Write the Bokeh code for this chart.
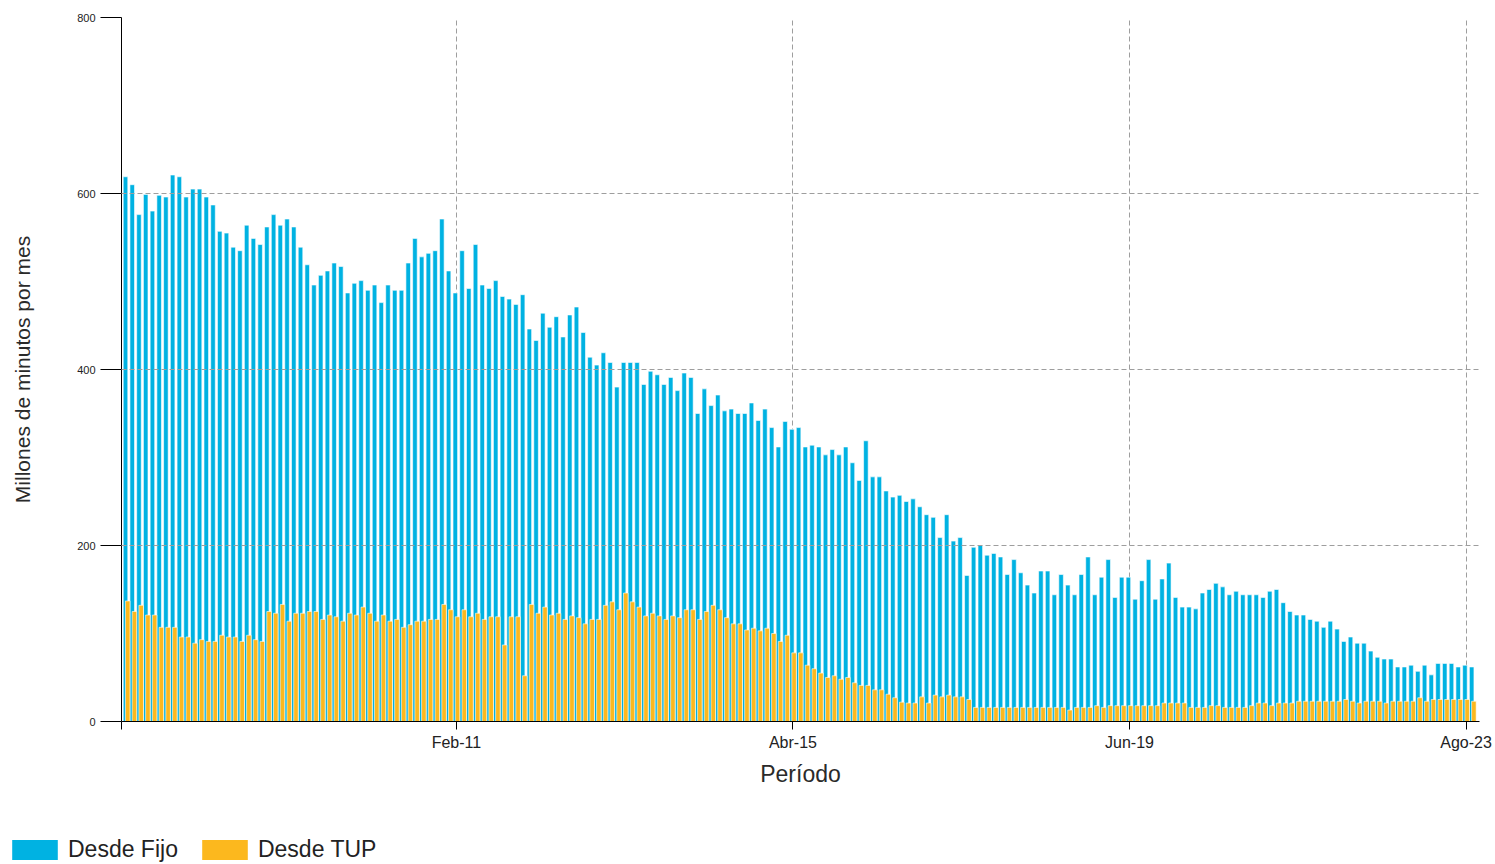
import numpy as np
from bokeh.plotting import figure
from bokeh.models import ColumnDataSource, FixedTicker, Range1d, Legend, LegendItem
from bokeh.embed import file_html
from bokeh.resources import INLINE

MESES = ["Ene", "Feb", "Mar", "Abr", "May", "Jun", "Jul", "Ago", "Sep", "Oct", "Nov", "Dic"]
periodos = [f"{MESES[m]}-{y % 100:02d}" for y in range(2007, 2024) for m in range(12)][:201]

desde_fijo = [
    619, 610, 576, 599, 580, 598, 596, 621, 619, 596, 605, 605, 596, 587, 557, 555, 539, 535, 564, 549,
    542, 562, 576, 564, 571, 562, 539, 519, 496, 507, 512, 521, 517,
    487, 498, 501, 490, 496, 476, 496, 490, 490, 521, 549, 528, 532, 535, 571, 512, 487, 535, 492, 542,
    496, 492, 501, 483, 480, 474, 485, 446, 433, 464, 448, 460,
    437, 462, 471, 442, 414, 405, 419, 408, 380, 408, 408, 408, 383, 398, 394, 383, 391, 376, 396, 391,
    350, 378, 359, 371, 353, 355, 350, 350, 362, 342, 355, 334, 312,
    341, 332, 334, 312, 314, 312, 303, 309, 303, 312, 294, 274, 319, 278, 278, 262, 255, 257, 250, 253,
    244, 235, 232, 209, 235, 205, 209, 166, 198, 200, 189, 191, 187,
    167, 184, 169, 155, 146, 171, 171, 144, 167, 155, 144, 167, 187, 144, 164, 184, 141, 164, 164, 139,
    160, 184, 139, 162, 180, 141, 130, 130, 128, 146, 150, 157,
    153, 144, 148, 144, 144, 144, 141, 148, 150, 135, 125, 121, 121, 116, 114, 107, 114, 105, 91, 96,
    89, 89, 80, 73, 71, 71, 62, 62, 64, 57, 64, 53, 66, 66, 66, 62, 64, 62,
]

desde_tup = [
    137, 125, 132, 121, 121, 107, 107, 107, 96, 96, 89, 93, 91, 91, 98, 96, 96, 91, 98, 93,
    91, 125, 123, 133, 114, 123, 123, 125, 125, 116, 121, 119,
    114, 123, 121, 130, 123, 114, 121, 114, 116, 107, 110, 114, 114, 116, 116, 133, 127, 119,
    127, 119, 123, 116, 119, 119, 87, 119, 119, 52, 133, 123, 130, 121, 123,
    116, 120, 118, 111, 116, 116, 132, 136, 127, 146, 136, 130, 120, 123, 120, 116, 120, 118, 127, 127,
    116, 125, 132, 127, 118, 111, 111, 104, 106, 103, 106, 100, 91,
    98, 78, 78, 64, 60, 55, 50, 52, 48, 50, 44, 41, 41, 36, 36, 31, 27, 22, 21, 21,
    28, 21, 30, 28, 30, 28, 28, 25, 16, 16, 16, 16, 16,
    16, 16, 16, 16, 16, 16, 16, 16, 16, 13, 16, 16, 16, 18, 16, 18, 18, 18, 18, 18,
    18, 18, 18, 21, 21, 21, 21, 16, 16, 16, 18, 18,
    16, 16, 16, 16, 18, 21, 21, 18, 21, 21, 21, 23, 23, 23, 23, 23, 23, 23, 25, 23,
    21, 23, 23, 23, 21, 23, 23, 23, 23, 27, 23, 25, 25, 25, 25, 25, 25, 23,
]

SERIES = ["Desde Fijo", "Desde TUP"]
TICK_LABELS = ["Feb-11", "Abr-15", "Jun-19", "Ago-23"]
Y_TICKS = [0, 200, 400, 600, 800]

FONT = "Liberation Sans"
BLUE = "#00B2E2"
ORANGE = "#FCB81E"

idx = np.arange(len(periodos))
src = ColumnDataSource(dict(
    periodo=periodos,
    xf=idx - 0.165,
    xt=idx + 0.165,
    fijo=desde_fijo,
    tup=desde_tup,
))

x_start = -0.76
p = figure(
    width=1492, height=798,
    x_range=Range1d(x_start, 201.0), y_range=Range1d(0, 800),
    output_backend="svg", toolbar_location=None,
    min_border_left=121, min_border_right=13, min_border_top=17, min_border_bottom=77,
    outline_line_color=None,
)

bar_kw = dict(width=0.68, line_color="white", line_width=0.6)
p.vbar(x="xf", top="fijo", source=src, fill_color=BLUE, **bar_kw)
p.vbar(x="xt", top="tup", source=src, fill_color=ORANGE, **bar_kw)

tick_pos = [periodos.index(t) for t in TICK_LABELS]
overrides = {x_start: ""}
for t, pos in zip(TICK_LABELS, tick_pos):
    overrides[pos] = t

p.xaxis.ticker = FixedTicker(ticks=[x_start] + tick_pos)
p.xaxis.major_label_overrides = overrides
p.yaxis.ticker = FixedTicker(ticks=Y_TICKS)
p.xgrid.ticker = FixedTicker(ticks=tick_pos)

for ax in (p.xaxis[0], p.yaxis[0]):
    ax.axis_line_color = "black"
    ax.major_tick_line_color = "black"
    ax.minor_tick_line_color = None
    ax.major_tick_in = 0
    ax.major_label_text_font = FONT
    ax.major_label_text_color = "#222222"
    ax.axis_label_text_font = FONT
    ax.axis_label_text_font_style = "normal"
    ax.axis_label_text_color = "#2A2A2A"

p.xaxis.major_tick_out = 8
p.xaxis.major_label_standoff = 4
p.xaxis.major_label_text_font_size = "16px"
p.xaxis.axis_label = "Período"
p.xaxis.axis_label_text_font_size = "23px"
p.xaxis.axis_label_standoff = 7

p.yaxis.major_tick_out = 21
p.yaxis.major_label_standoff = 5
p.yaxis.major_label_text_font_size = "11px"
p.yaxis.axis_label = "Millones de minutos por mes"
p.yaxis.axis_label_text_font_size = "21px"
p.yaxis.axis_label_standoff = 40

for g in (p.xgrid[0], p.ygrid[0]):
    g.grid_line_color = "#9E9E9E"
    g.grid_line_dash = "5 3"
    g.grid_line_width = 1
p.ygrid.level = "overlay"
p.xgrid.level = "underlay"

# legend strip below the chart (separate root, its frame spans the full width)
pl = figure(
    width=1492, height=64, x_range=Range1d(0, 1), y_range=Range1d(0, 1),
    output_backend="svg", toolbar_location=None,
    min_border=0, min_border_left=0, min_border_right=0, min_border_top=0, min_border_bottom=0,
    x_axis_type=None, y_axis_type=None, outline_line_color=None,
)
# zero-size proxies: they draw nothing, they only lend their colours to the legend swatches
d1 = pl.vbar(x=[0], top=[0], width=0, fill_color=BLUE, line_color=None)
d2 = pl.vbar(x=[0], top=[0], width=0, fill_color=ORANGE, line_color=None)
legend = Legend(
    items=[LegendItem(label=SERIES[0], renderers=[d1]),
           LegendItem(label=SERIES[1], renderers=[d2])],
    orientation="horizontal", location=(6, -1),
    padding=0, margin=0, spacing=18,
    glyph_width=57, glyph_height=25, label_standoff=5, label_height=20,
    label_text_font=FONT, label_text_font_size="23px", label_text_color="#222222",
    border_line_alpha=0, background_fill_alpha=0,
)
pl.add_layout(legend)

open("out.html", "w").write(file_html([p, pl], INLINE))
